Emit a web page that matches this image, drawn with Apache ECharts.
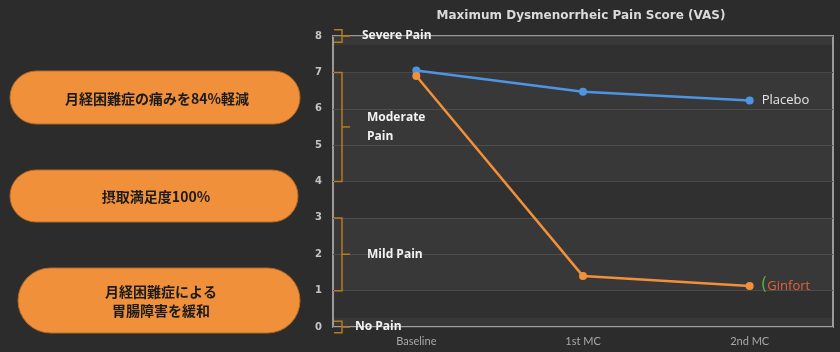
<!DOCTYPE html>
<html>
<head>
<meta charset="utf-8">
<script src="https://cdn.jsdelivr.net/npm/echarts@6/dist/echarts.min.js"></script>
<style>
  html, body { margin: 0; padding: 0; background: #2c2c2c; }
  #chart { width: 840px; height: 352px; }
</style>
</head>
<body>
<div id="chart"></div>
<script>
// data
const categories = ['Baseline', '1st MC', '2nd MC']
const placebo = [7.05, 6.47, 6.23]
const ginfort = [6.9, 1.4, 1.13]
const yTicks = [0, 1, 2, 3, 4, 5, 6, 7, 8]

// pain ranges shown as braces on the left
const bandNames = ['Severe Pain', 'Moderate\nPain', 'Mild Pain', 'No Pain']
const bandLow = [7.83, 4, 1, -0.16]
const bandHigh = [8.17, 7, 3, 0.16]
const bandMid = [8, 5.5, 2, 0]

// lighter shaded stripes behind the lines
const shadeFrom = [7.75, 4, 1, 0]
const shadeTo = [8, 7, 3, 0.25]

const pills = [
    '月経困難症の痛みを84%軽減',
    '摂取満足度100%',
    '月経困難症による\n胃腸障害を緩和'
]

const orange = '#f0903a'
const blue = '#4f94e2'
const braceColor = '#b87a1c'

const chart = echarts.init(document.getElementById('chart'))

const braceData = bandNames.map((n, i) => [bandLow[i], bandHigh[i], bandMid[i], n])
const shadeAreas = shadeFrom.map((v, i) => [{ yAxis: v }, { yAxis: shadeTo[i] }])

// left side orange pills
const pillBoxes = [
    { x: 10, y: 71, w: 290, h: 53 },
    { x: 10, y: 170, w: 288, h: 52 },
    { x: 18, y: 268, w: 282, h: 65 }
]
const graphic = pillBoxes.map((b, i) => ({
    type: 'group',
    children: [
        {
            type: 'rect',
            shape: { x: b.x, y: b.y, width: b.w, height: b.h, r: b.h / 2 },
            style: { fill: orange, stroke: '#b66a22', lineWidth: 1 }
        },
        {
            type: 'text',
            x: b.x + b.w / 2 + 2,
            y: b.y + b.h / 2 + 1,
            style: {
                text: pills[i],
                fill: '#1b1b1b',
                font: 'bold 14px "Noto Sans CJK JP"',
                align: 'center',
                verticalAlign: 'middle',
                lineHeight: 19
            }
        }
    ]
}))

chart.setOption({
    backgroundColor: '#2c2c2c',
    animation: false,
    title: {
        text: 'Maximum Dysmenorrheic Pain Score (VAS)',
        left: 576,
        top: 5,
        textAlign: 'center',
        textStyle: { color: '#dadada', fontSize: 12, fontWeight: 'bold', fontFamily: 'DejaVu Sans' }
    },
    graphic: graphic,
    grid: {
        left: 333, right: 7, top: 36, bottom: 25,
        show: true,
        backgroundColor: '#303030',
        borderColor: '#999999',
        borderWidth: 2
    },
    xAxis: {
        type: 'category',
        data: categories,
        axisLine: { show: false },
        axisTick: { show: false },
        axisLabel: { color: '#a8a8a8', fontSize: 11, margin: 9, fontFamily: 'Lato' }
    },
    yAxis: {
        type: 'value',
        min: yTicks[0],
        max: yTicks[yTicks.length - 1],
        interval: 1,
        axisLine: { show: false },
        axisTick: { show: false },
        axisLabel: { color: '#c4c4c4', fontSize: 10, fontWeight: 'bold', margin: 11, fontFamily: 'DejaVu Sans' },
        splitLine: { lineStyle: { color: '#464646', width: 1 } }
    },
    series: [
        {
            name: 'Placebo',
            type: 'line',
            data: placebo,
            symbol: 'circle',
            symbolSize: 8,
            z: 3,
            lineStyle: { color: blue, width: 2.5 },
            itemStyle: { color: blue },
            label: {
                show: true,
                position: 'right',
                distance: 8,
                color: '#e6e6e6',
                fontSize: 13,
                fontFamily: 'Open Sans',
                formatter: p => p.dataIndex === placebo.length - 1 ? 'Placebo' : ''
            },
            markArea: {
                silent: true,
                itemStyle: { color: 'rgba(255,255,255,0.045)' },
                data: shadeAreas
            }
        },
        {
            name: 'Ginfort',
            type: 'line',
            data: ginfort,
            symbol: 'circle',
            symbolSize: 8,
            z: 4,
            lineStyle: { color: orange, width: 2.5 },
            itemStyle: { color: orange },
            label: {
                show: true,
                position: 'right',
                distance: 7,
                formatter: p => p.dataIndex === ginfort.length - 1 ? '{g|(}{t|Ginfort}' : '',
                rich: {
                    g: { color: '#5aa83a', fontSize: 17, fontFamily: 'DejaVu Sans' },
                    t: { color: '#e2623a', fontSize: 13, fontFamily: 'Open Sans' }
                }
            }
        },
        {
            name: 'bands',
            type: 'custom',
            clip: false,
            silent: true,
            z: 5,
            data: braceData,
            renderItem: (params, api) => {
                const sys = params.coordSys
                const x0 = sys.x + 1
                const xv = sys.x + 9
                const xt = sys.x + 17
                const yTop = api.coord([0, api.value(1)])[1]
                const yBot = api.coord([0, api.value(0)])[1]
                const yMid = api.coord([0, api.value(2)])[1]
                const name = braceData[params.dataIndex][3]
                const lines = name.split('\n').length
                return {
                    type: 'group',
                    children: [
                        {
                            type: 'polyline',
                            shape: { points: [[x0, yTop], [xv, yTop], [xv, yBot], [x0, yBot]] },
                            style: { stroke: braceColor, lineWidth: 1.5, fill: null }
                        },
                        {
                            type: 'line',
                            shape: { x1: xv, y1: yMid, x2: xt, y2: yMid },
                            style: { stroke: braceColor, lineWidth: 1.5 }
                        },
                        {
                            type: 'text',
                            x: sys.x + (lines > 1 ? 34 : (params.dataIndex === 0 ? 29 : (params.dataIndex === 3 ? 22 : 34))),
                            y: yMid,
                            style: {
                                text: name,
                                fill: '#f2f2f2',
                                font: 'bold 12px "Open Sans"',
                                verticalAlign: 'middle',
                                lineHeight: 19
                            }
                        }
                    ]
                }
            }
        }
    ]
})
</script>
</body>
</html>
